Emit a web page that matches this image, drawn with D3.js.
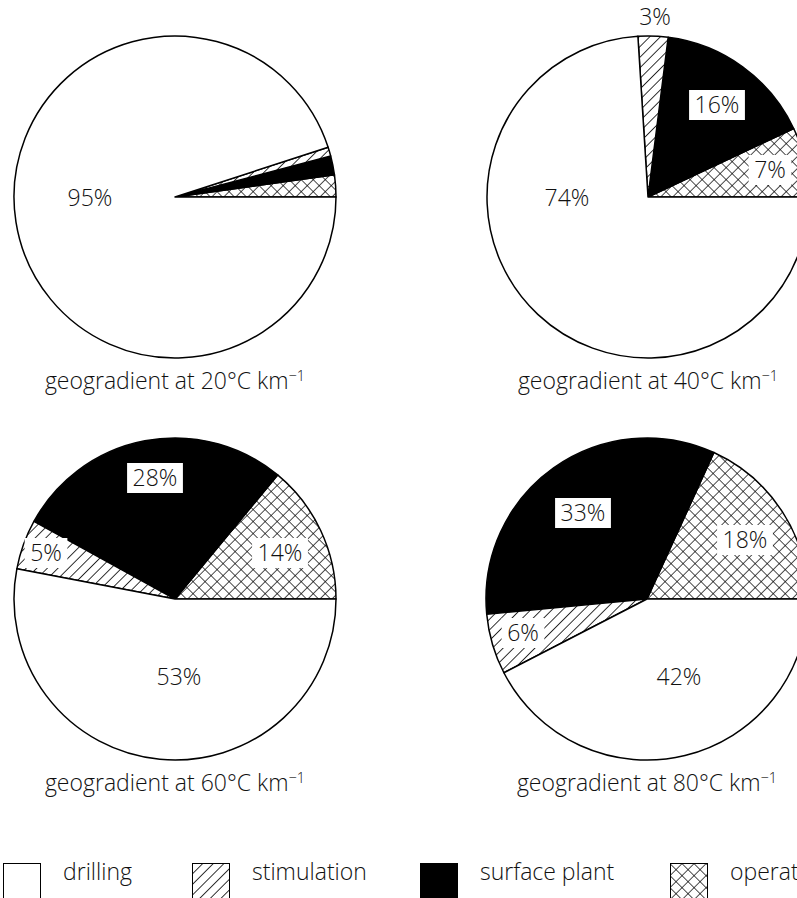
<!DOCTYPE html>
<html>
<head>
<meta charset="utf-8">
<script src="https://cdn.jsdelivr.net/npm/d3@7"></script>
<style>
  html, body { margin: 0; padding: 0; background: #fff; }
  svg { display: block; }
  text { font-family: "Open Sans", "Noto Sans", "DejaVu Sans", sans-serif; font-weight: 300; fill: #111; }
</style>
</head>
<body>
<svg id="chart" width="797" height="898"></svg>
<script>
// Cost shares (%) for each geothermal gradient
const categories = ["drilling", "stimulation", "surface plant", "operation"];
const gradients = [20, 40, 60, 80];
const drilling     = [95, 74, 53, 42];
const stimulation  = [0.9, 3, 5, 6];
const surfacePlant = [1.9, 16, 28, 33];
const operation    = [2.2, 7, 14, 18];
// which slices carry a printed percentage, per pie
const shownLabels = [
  ["drilling"],
  ["drilling", "stimulation", "surface plant", "operation"],
  ["drilling", "stimulation", "surface plant", "operation"],
  ["drilling", "stimulation", "surface plant", "operation"]
];

// ---- layout ----
const radius = 161;
const centers = [[175, 197], [648, 197], [175, 599], [647, 599]];
const titleY = [389, 389, 791, 791];
const legendX = [3, 192, 420, 670];
// label anchor offsets from the pie centre
const labelOffsets = [
  { "drilling": [-85, 1] },
  { "drilling": [-81, 1], "stimulation": [7, -180], "surface plant": [69, -92], "operation": [122, -27] },
  { "drilling": [4, 78], "stimulation": [-129, -46], "surface plant": [-20, -121], "operation": [105, -46] },
  { "drilling": [32, 78], "stimulation": [-124, 34], "surface plant": [-64, -86], "operation": [98, -59] }
];

const svg = d3.select("#chart");
const defs = svg.append("defs");

// diagonal hatch for stimulation
const hatch = defs.append("pattern")
  .attr("id", "hatch").attr("patternUnits", "userSpaceOnUse")
  .attr("width", 7.5).attr("height", 7.5)
  .attr("patternTransform", "rotate(45)");
hatch.append("rect").attr("width", 7.5).attr("height", 7.5).attr("fill", "#fff");
hatch.append("line").attr("x1", 0).attr("y1", 0).attr("x2", 0).attr("y2", 7.5)
  .attr("stroke", "#000").attr("stroke-width", 1.6);

// cross hatch for operation
const cross = defs.append("pattern")
  .attr("id", "cross").attr("patternUnits", "userSpaceOnUse")
  .attr("width", 8.5).attr("height", 8.5)
  .attr("patternTransform", "rotate(45)");
cross.append("rect").attr("width", 8.5).attr("height", 8.5).attr("fill", "#fff");
cross.append("line").attr("x1", 0).attr("y1", 0).attr("x2", 0).attr("y2", 8.5)
  .attr("stroke", "#000").attr("stroke-width", 1.4);
cross.append("line").attr("x1", 0).attr("y1", 0).attr("x2", 8.5).attr("y2", 0)
  .attr("stroke", "#000").attr("stroke-width", 1.4);

const fillScale = d3.scaleOrdinal()
  .domain(categories)
  .range(["#fff", "url(#hatch)", "#000", "url(#cross)"]);

const seriesByCat = {
  "drilling": drilling,
  "stimulation": stimulation,
  "surface plant": surfacePlant,
  "operation": operation
};

// slices run counter-clockwise from 3 o'clock: operation, surface plant, stimulation, drilling
const sliceOrder = ["operation", "surface plant", "stimulation", "drilling"];
const pie = d3.pie()
  .sort(null)
  .value(d => d.value)
  .startAngle(Math.PI / 2)
  .endAngle(Math.PI / 2 - 2 * Math.PI);
const arc = d3.arc().innerRadius(0).outerRadius(radius);

gradients.forEach((g, i) => {
  const rows = sliceOrder.map(c => ({ cat: c, value: seriesByCat[c][i] }));
  const gp = svg.append("g").attr("transform", `translate(${centers[i][0]},${centers[i][1]})`);

  gp.selectAll("path.slice")
    .data(pie(rows))
    .join("path")
    .attr("class", "slice")
    .attr("d", arc)
    .attr("fill", d => fillScale(d.data.cat))
    .attr("stroke", "#000")
    .attr("stroke-width", 1.5)
    .attr("stroke-linejoin", "round");

  // percentage labels on white boxes
  const labs = rows.filter(r => shownLabels[i].includes(r.cat));
  const lg = gp.selectAll("g.lab").data(labs).join("g")
    .attr("class", "lab")
    .attr("transform", d => {
      const o = labelOffsets[i][d.cat];
      return `translate(${o[0]},${o[1]})`;
    });
  lg.append("text")
    .attr("text-anchor", "middle")
    .attr("dy", "0.36em")
    .attr("font-size", 23)
    .text(d => `${Math.round(d.value)}%`);
  lg.each(function () {
    const t = d3.select(this).select("text");
    const w = t.node().getComputedTextLength();
    d3.select(this).insert("rect", "text")
      .attr("x", -w / 2 - 5.5).attr("y", -15)
      .attr("width", w + 11).attr("height", 30)
      .attr("fill", "#fff");
  });

  // caption
  const cap = svg.append("text")
    .attr("x", centers[i][0])
    .attr("y", titleY[i])
    .attr("text-anchor", "middle")
    .attr("font-size", 23);
  cap.append("tspan").text(`geogradient at ${g}°C km`);
  cap.append("tspan").attr("font-size", 14.5).attr("dy", -8).text("\u22121");
});

// legend (the last entry runs past the right edge)
const legend = svg.append("g").attr("transform", "translate(0,863)");
categories.forEach((c, k) => {
  const item = legend.append("g").attr("transform", `translate(${legendX[k]},0)`);
  item.append("rect")
    .attr("x", 0.5).attr("y", 0.5)
    .attr("width", 37).attr("height", 37)
    .attr("fill", fillScale(c))
    .attr("stroke", "#000").attr("stroke-width", 1);
  item.append("text")
    .attr("x", 60).attr("y", 17)
    .attr("font-size", 23)
    .text(c);
});
</script>
</body>
</html>
